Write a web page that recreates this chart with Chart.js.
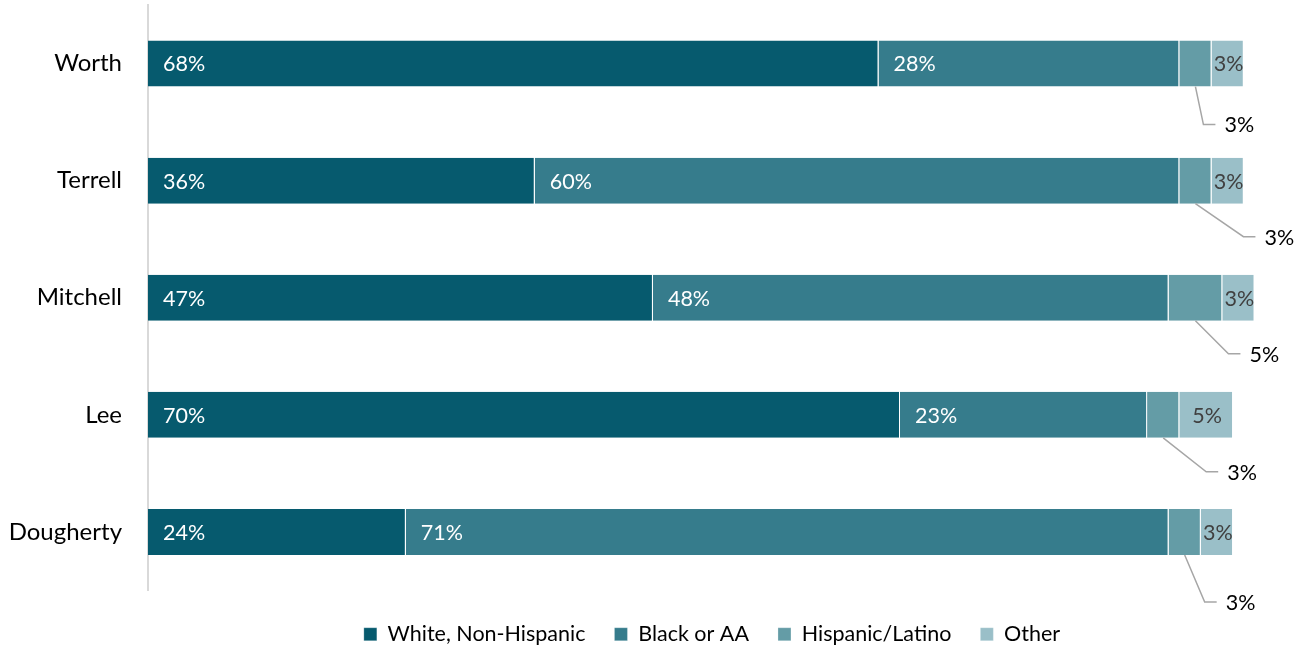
<!DOCTYPE html>
<html>
<head>
<meta charset="utf-8">
<script src="https://cdn.jsdelivr.net/npm/chart.js@4"></script>
<style>
  html, body { margin: 0; padding: 0; background: #fff; }
  #wrap { width: 1297px; height: 651px; }
</style>
</head>
<body>
<div id="wrap"><canvas id="myChart" width="1297" height="651"></canvas></div>
<script>
const counties = ["Worth", "Terrell", "Mitchell", "Lee", "Dougherty"];
const seriesNames = ["White, Non-Hispanic", "Black or AA", "Hispanic/Latino", "Other"];
const white = [68, 36, 47, 70, 24];
const black = [28, 60, 48, 23, 71];
const hispanic = [3, 3, 5, 3, 3];
const other = [3, 3, 3, 5, 3];
const colors = ["#065A6E", "#367C8C", "#649CA6", "#9ABFC8"];

// where the hispanic callouts sit, relative to the bottom centre of the segment
const leaderOffsets = [[8, 38], [48, 33], [33, 33], [43, 34], [20, 47]];

const FONT = "Lato, 'Open Sans', sans-serif";

const labelPlugin = {
  id: "segLabels",
  afterLayout(chart) {
    // nudge the legend a little lower without shrinking the plot
    const lg = chart.legend;
    if (lg) {
      lg.top += 4;
      lg.bottom += 4;
      if (lg.adjustHitBoxes) lg.adjustHitBoxes();
    }
  },
  afterDatasetsDraw(chart) {
    const ctx = chart.ctx;
    ctx.save();
    ctx.font = "21.5px " + FONT;
    ctx.textBaseline = "middle";
    chart.data.datasets.forEach((ds, di) => {
      const meta = chart.getDatasetMeta(di);
      meta.data.forEach((bar, i) => {
        const txt = ds.data[i] + "%";
        const left = bar.base, right = bar.x;
        if (di < 2) {
          ctx.fillStyle = "#ffffff";
          ctx.textAlign = "left";
          ctx.fillText(txt, left + 15, bar.y + 1);
        } else if (di === 3) {
          ctx.fillStyle = "#404040";
          ctx.textAlign = "center";
          ctx.fillText(txt, (left + right) / 2 + 1, bar.y + 1);
        } else {
          const cx = (left + right) / 2;
          const by = bar.y + bar.height / 2;
          const [dx, dy] = leaderOffsets[i];
          ctx.strokeStyle = "#A6A6A6";
          ctx.lineWidth = 1.5;
          ctx.beginPath();
          ctx.moveTo(cx, by);
          ctx.lineTo(cx + dx, by + dy);
          ctx.lineTo(cx + dx + 12, by + dy);
          ctx.stroke();
          ctx.fillStyle = "#000000";
          ctx.textAlign = "left";
          ctx.fillText(txt, cx + dx + 21, by + dy + 1);
        }
      });
    });
    ctx.restore();
  }
};

const ctx = document.getElementById("myChart");

new Chart(ctx, {
  type: "bar",
  data: {
    labels: counties,
    datasets: [white, black, hispanic, other].map((d, k) => ({
      label: seriesNames[k],
      data: d,
      backgroundColor: colors[k],
      borderColor: "#ffffff",
      borderWidth: { left: 0, right: 1, top: 0, bottom: 0 },
      borderSkipped: false,
      barPercentage: 0.393,
      categoryPercentage: 1.0
    }))
  },
  options: {
    indexAxis: "y",
    responsive: false,
    animation: false,
    devicePixelRatio: 1,
    layout: { padding: { left: 0, right: 21, top: 5, bottom: 0 } },
    scales: {
      x: {
        stacked: true,
        display: false,
        min: 0,
        max: 105
      },
      y: {
        stacked: true,
        grid: { display: false, drawTicks: true, tickLength: 26 },
        border: { display: true, color: "#D9D9D9", width: 2 },
        ticks: { color: "#000", font: { family: FONT, size: 24 }, padding: 0 },
        afterFit(scale) {
          scale.width = 148;
          scale.paddingTop = 0;
          scale.paddingBottom = 0;
        }
      }
    },
    plugins: {
      legend: {
        position: "bottom",
        fullSize: false,
        labels: {
          boxWidth: 13,
          boxHeight: 13,
          padding: 29,
          color: "#000",
          font: { family: FONT, size: 21.5 }
        }
      },
      tooltip: { enabled: false }
    }
  },
  plugins: [labelPlugin]
});
</script>
</body>
</html>
